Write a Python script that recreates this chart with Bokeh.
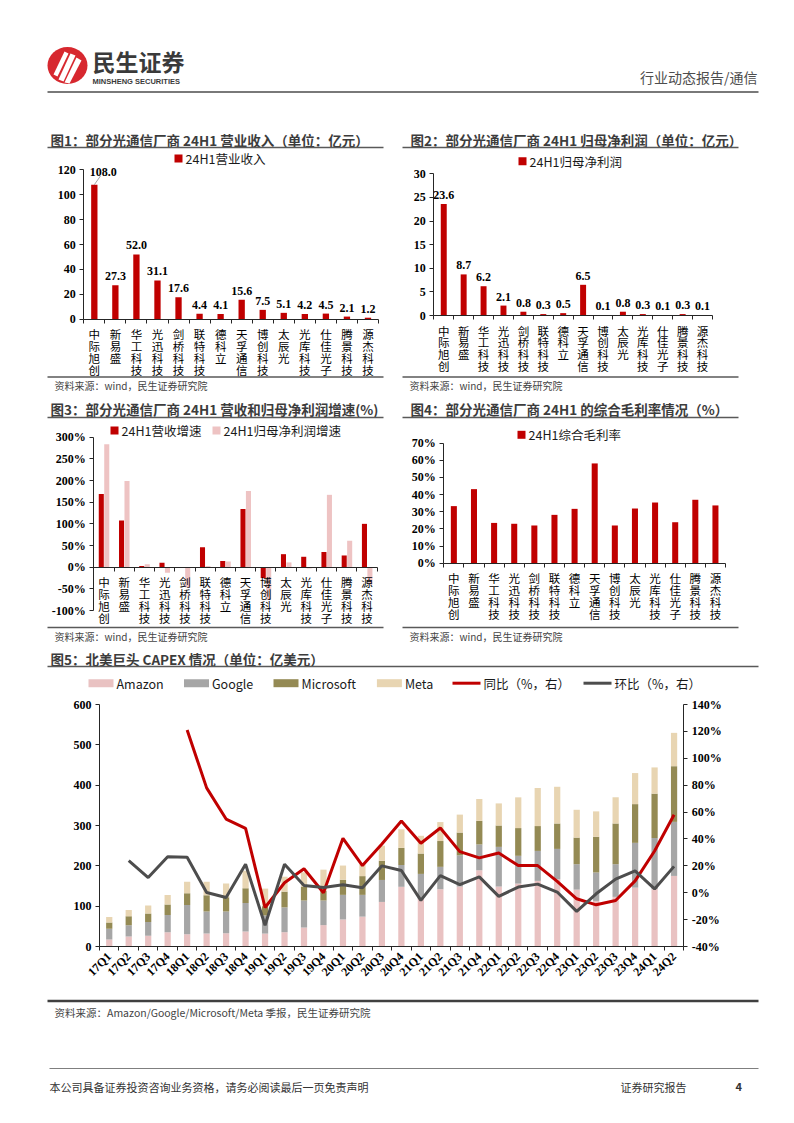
import math
from bokeh.plotting import figure
from bokeh.models import (Range1d, FixedTicker, LinearAxis, ColumnDataSource,
                          PrintfTickFormatter, CustomJSTickFormatter, LabelSet)
from bokeh.embed import file_html
from bokeh.resources import INLINE
from bokeh.core.properties import value
from bokeh.transform import dodge

# ---------------- data ----------------
companies = ["中际旭创", "新易盛", "华工科技", "光迅科技", "剑桥科技", "联特科技", "德科立",
             "天孚通信", "博创科技", "太辰光", "光库科技", "仕佳光子", "腾景科技", "源杰科技"]
revenue_24h1 = [108.0, 27.3, 52.0, 31.1, 17.6, 4.4, 4.1, 15.6, 7.5, 5.1, 4.2, 4.5, 2.1, 1.2]
net_profit_24h1 = [23.6, 8.7, 6.2, 2.1, 0.8, 0.3, 0.5, 6.5, 0.1, 0.8, 0.3, 0.1, 0.3, 0.1]
revenue_growth = [169, 108, 3, 10, -1, 46, 14, 134, -25, 30, 24, 35, 27, 100]
profit_growth = [284, 199, 7, -13, -47, 3, 13, 176, -75, 11, -3, 167, 61, -40]
gross_margin = [33.3, 43.2, 23.5, 23.0, 22.0, 28.2, 31.7, 58.2, 22.0, 31.9, 35.4, 23.9, 37.0, 33.7]

quarters = ["17Q1", "17Q2", "17Q3", "17Q4", "18Q1", "18Q2", "18Q3", "18Q4",
            "19Q1", "19Q2", "19Q3", "19Q4", "20Q1", "20Q2", "20Q3", "20Q4",
            "21Q1", "21Q2", "21Q3", "21Q4", "22Q1", "22Q2", "22Q3", "22Q4",
            "23Q1", "23Q2", "23Q3", "23Q4", "24Q1", "24Q2"]
amazon = [17.3, 24.7, 26.4, 35.5, 30.5, 32.2, 33.0, 37.0, 32.0, 35.5, 47.0, 53.0, 67.0, 74.0, 110.5,
          148.0, 118.0, 142.0, 148.6, 189.0, 148.6, 156.0, 162.7, 167.0, 141.0, 113.0, 123.0, 146.0, 142.0, 175.0]
google = [26.4, 28.1, 34.6, 42.9, 72.5, 54.4, 53.6, 71.0, 45.0, 61.5, 67.0, 61.0, 61.0, 54.0, 54.5,
          54.0, 62.0, 55.5, 77.4, 64.0, 98.4, 68.8, 74.3, 75.0, 63.0, 70.5, 81.0, 111.0, 127.0, 134.0]
microsoft = [15.7, 22.2, 20.6, 25.6, 29.0, 40.4, 35.4, 36.3, 23.0, 39.0, 34.5, 24.0, 37.5, 46.5, 47.5,
             42.5, 50.5, 64.0, 56.5, 58.5, 53.0, 68.8, 61.6, 63.0, 66.0, 88.5, 101.0, 96.0, 110.0, 138.0]
meta = [14.0, 15.7, 19.8, 23.8, 28.8, 33.8, 34.0, 43.7, 43.5, 37.0, 35.5, 52.5, 35.2, 29.5, 37.5,
        46.0, 44.0, 47.0, 44.5, 54.2, 54.8, 76.2, 94.4, 91.0, 69.0, 63.0, 65.0, 77.0, 65.0, 82.7]
NaN = float("nan")
yoy = [NaN, NaN, NaN, NaN, 121.0, 78.0, 54.8, 47.9, -11.0, 7.4, 17.8, 0.0, 40.5, 20.2, 36.3,
       53.3, 36.8, 48.1, 30.6, 25.9, 29.6, 20.2, 20.2, 8.5, -4.5, -9.0, -5.8, 8.8, 31.0, 58.0]
qoq = [NaN, 23.9, 11.3, 26.7, 26.4, 0.2, -3.5, 21.2, -24.2, 21.2, 5.4, 3.9, 5.9, 3.7, 20.0,
       16.5, -5.7, 12.7, 6.0, 11.8, -2.7, 4.2, 6.4, 0.5, -13.9, -0.8, 10.1, 16.2, 2.8, 19.6]

# ---------------- styles ----------------
CJK = "Noto Sans CJK SC"
SERIF = "Liberation Serif"
AXIS_COLOR = "#262626"
DARK_RED = "#C00000"
LIGHT_PINK = "#EEC3C3"
C_AMZ = "#E9C2C2"
C_GOOG = "#A6A6A6"
C_MSFT = "#948A54"
C_META = "#E8D5B2"
C_QOQ = "#4D4D4D"
TITLE_COLOR = "#3c3c3c"
RULE_COLOR = "#595959"
MARGIN = 0   # the canvas sits at the page's top-left corner

W, H = 778, 1107
p = figure(width=W, height=H, x_range=Range1d(0, W), y_range=Range1d(H, 0),
           output_backend="svg", toolbar_location=None, min_border=0,
           x_axis_location=None, y_axis_location=None)
p.xgrid.visible = False
p.ygrid.visible = False
p.outline_line_color = None
p.background_fill_color = "white"
p.border_fill_color = "white"

xr_extra, yr_extra = {}, {}


def panel(xname, yname, px_l, px_r, umin, umax, py_t, py_b, vmin, vmax):
    """Place a chart's plot area (page pixels) by defining its own ranges."""
    fx_l, fx_r = px_l - MARGIN, px_r - MARGIN
    fy_t, fy_b = py_t - MARGIN, py_b - MARGIN
    kx = (umax - umin) / (fx_r - fx_l)
    ky = (vmax - vmin) / (fy_b - fy_t)
    if xname is not None:
        xr_extra[xname] = Range1d(umin - fx_l * kx, umin + (W - fx_l) * kx)
    yr_extra[yname] = Range1d(vmin - (H - fy_b) * ky, vmin + fy_b * ky)


n = len(companies)
nq = len(quarters)
panel("c1x", "c1y", 83.3, 378.0, -0.5, n - 0.5, 169.3, 318.7, 0, 120)
panel("c2x", "c2y", 433.3, 712.0, -0.5, n - 0.5, 173.3, 315.0, 0, 30)
panel("c3x", "c3y", 93.3, 376.7, -0.5, n - 0.5, 436.7, 610.0, -100, 300)
panel("c4x", "c4y", 443.3, 725.0, -0.5, n - 0.5, 442.7, 562.7, 0, 70)
panel("c5x", "c5y", 99.0, 683.3, -0.5, nq - 0.5, 704.0, 946.0, 0, 600)
panel(None, "c5p", 99.0, 683.3, -0.5, nq - 0.5, 704.0, 946.0, -40, 140)
p.extra_x_ranges = xr_extra
p.extra_y_ranges = yr_extra


def style_y(axis, ticks, fmt=None):
    axis.ticker = FixedTicker(ticks=ticks)
    if fmt:
        axis.formatter = PrintfTickFormatter(format=fmt)
    axis.axis_line_color = AXIS_COLOR
    axis.major_tick_line_color = AXIS_COLOR
    axis.major_tick_out = 4
    axis.major_tick_in = 0
    axis.minor_tick_line_color = None
    axis.major_label_text_font = SERIF
    axis.major_label_text_font_style = "bold"
    axis.major_label_text_font_size = "12px"
    axis.major_label_text_color = "black"
    axis.major_label_standoff = 4


def val_axis(xn, yn, loc, ticks, fmt=None, side="left"):
    ax = LinearAxis(x_range_name=xn, y_range_name=yn, fixed_location=loc,
                    bounds=(ticks[0], ticks[-1]))
    style_y(ax, ticks, fmt)
    p.add_layout(ax, side)
    return ax


def cat_axis(xn, yn, loc, labels, font, size, orientation="horizontal", standoff=3,
             bold=False, line_height=None):
    k = len(labels)
    ax = LinearAxis(x_range_name=xn, y_range_name=yn, fixed_location=loc, bounds=(-0.5, k - 0.5))
    ax.ticker = FixedTicker(ticks=list(range(k)), minor_ticks=[i - 0.5 for i in range(k + 1)])
    ax.formatter = CustomJSTickFormatter(
        args=dict(names=labels),
        code="const i = Math.round(tick); return (i >= 0 && i < names.length) ? names[i] : '';")
    ax.major_tick_line_color = None
    ax.major_tick_out = 0
    ax.major_tick_in = 0
    ax.minor_tick_line_color = AXIS_COLOR
    ax.minor_tick_out = 4
    ax.minor_tick_in = 0
    ax.axis_line_color = AXIS_COLOR
    ax.major_label_text_font = font
    ax.major_label_text_font_size = size
    ax.major_label_text_color = "black"
    ax.major_label_standoff = standoff
    ax.major_label_orientation = orientation
    if line_height is not None:
        ax.major_label_text_line_height = line_height
    if bold:
        ax.major_label_text_font_style = "bold"
    p.add_layout(ax, "below")
    return ax


# decorations are given in page pixels
def put_text(x, y, t, size, color="#333333", bold=False, font=CJK, align="left"):
    p.text(x=[x - MARGIN], y=[y - MARGIN], text=[t], text_font=value(font), text_font_size=size,
           text_color=color, text_font_style="bold" if bold else "normal",
           text_align=align, text_baseline="middle")


def put_rule(x0, x1, y, color=RULE_COLOR, w=1.5):
    p.line(x=[x0 - MARGIN, x1 - MARGIN], y=[y - MARGIN, y - MARGIN], line_color=color, line_width=w)


def legend_box(x, y, label, color, w=8, h=8, gap=3, size="12.5px"):
    p.quad(left=[x - MARGIN], right=[x + w - MARGIN], top=[y - h / 2 - MARGIN],
           bottom=[y + h / 2 - MARGIN], fill_color=color, line_color=None)
    put_text(x + w + gap, y, label, size, color="#1a1a1a")


def legend_line(x, y, label, color, w=25, gap=3, size="12.5px"):
    p.line(x=[x - MARGIN, x + w - MARGIN], y=[y - MARGIN, y - MARGIN], line_color=color, line_width=3)
    put_text(x + w + gap, y, label, size, color="#1a1a1a")


def labelset(src, xf, yf, xn, yn):
    p.add_layout(LabelSet(x=xf, y=yf, text="txt", source=src, x_range_name=xn, y_range_name=yn,
                          text_align="center", text_baseline="bottom", y_offset=5,
                          text_font=value(SERIF), text_font_style="bold",
                          text_font_size="12px", text_color="black"))


stacked_names = ["\n".join(c) for c in companies]
idx = list(range(n))
CAT_SIZE = "11.5px"
CAT_LH = 0.74

# ---------------- chart 1 ----------------
overflow1 = 100      # labels of taller bars are moved to the top slot
slot1 = 111
src1 = ColumnDataSource(dict(
    x=idx, v=revenue_24h1,
    lx=[i + (0.42 if v > overflow1 else 0) for i, v in zip(idx, revenue_24h1)],
    ly=[slot1 if v > overflow1 else v for v in revenue_24h1],
    txt=[f"{v:.1f}" for v in revenue_24h1]))
p.vbar(x="x", top="v", width=0.3, source=src1, fill_color=DARK_RED, line_color=None,
       x_range_name="c1x", y_range_name="c1y")
lead = [(i, v) for i, v in zip(idx, revenue_24h1) if v > overflow1]
p.segment(x0=[i for i, v in lead], y0=[v for i, v in lead],
          x1=[i + 0.29 for i, v in lead], y1=[slot1 + 4 for i, v in lead],
          line_color="#8c8c8c", line_width=0.8, x_range_name="c1x", y_range_name="c1y")
labelset(src1, "lx", "ly", "c1x", "c1y")
val_axis("c1x", "c1y", -0.5, list(range(0, 121, 20)))
cat_axis("c1x", "c1y", 0, stacked_names, CJK, CAT_SIZE, line_height=CAT_LH)

# ---------------- chart 2 ----------------
src2 = ColumnDataSource(dict(x=idx, v=net_profit_24h1, txt=[f"{v:.1f}" for v in net_profit_24h1]))
p.vbar(x="x", top="v", width=0.3, source=src2, fill_color=DARK_RED, line_color=None,
       x_range_name="c2x", y_range_name="c2y")
labelset(src2, "x", "v", "c2x", "c2y")
val_axis("c2x", "c2y", -0.5, list(range(0, 31, 5)))
cat_axis("c2x", "c2y", 0, stacked_names, CJK, CAT_SIZE, line_height=CAT_LH)

# ---------------- chart 3 ----------------
src3 = ColumnDataSource(dict(x=idx, rg=revenue_growth, pg=profit_growth))
p.vbar(x=dodge("x", -0.13, range=xr_extra["c3x"]), top="rg", bottom=0, width=0.25, source=src3,
       fill_color=DARK_RED, line_color=None, x_range_name="c3x", y_range_name="c3y")
p.vbar(x=dodge("x", 0.14, range=xr_extra["c3x"]), top="pg", bottom=0, width=0.25, source=src3,
       fill_color=LIGHT_PINK, line_color=None, x_range_name="c3x", y_range_name="c3y")
val_axis("c3x", "c3y", -0.5, list(range(-100, 301, 50)), "%d%%")
cat_axis("c3x", "c3y", 0, stacked_names, CJK, CAT_SIZE, line_height=CAT_LH)

# ---------------- chart 4 ----------------
src4 = ColumnDataSource(dict(x=idx, v=gross_margin))
p.vbar(x="x", top="v", width=0.3, source=src4, fill_color=DARK_RED, line_color=None,
       x_range_name="c4x", y_range_name="c4y")
val_axis("c4x", "c4y", -0.5, list(range(0, 71, 10)), "%d%%")
cat_axis("c4x", "c4y", 0, stacked_names, CJK, CAT_SIZE, line_height=CAT_LH)

# ---------------- chart 5 ----------------
src5 = ColumnDataSource(dict(x=list(range(nq)), amazon=amazon, google=google,
                             microsoft=microsoft, meta=meta, yoy=yoy, qoq=qoq))
p.vbar_stack(["amazon", "google", "microsoft", "meta"], x="x", width=0.32, source=src5,
             fill_color=[C_AMZ, C_GOOG, C_MSFT, C_META], line_color=None,
             x_range_name="c5x", y_range_name="c5y")
p.line("x", "yoy", source=src5, x_range_name="c5x", y_range_name="c5p",
       line_color=DARK_RED, line_width=3)
p.line("x", "qoq", source=src5, x_range_name="c5x", y_range_name="c5p",
       line_color=C_QOQ, line_width=3)
val_axis("c5x", "c5y", -0.5, list(range(0, 601, 100)))
val_axis("c5x", "c5p", nq - 0.5, list(range(-40, 141, 20)), "%d%%", side="right")
cat_axis("c5x", "c5y", 0, quarters, SERIF, "12px", orientation=math.pi / 4, standoff=4, bold=True)

# ---------------- legends ----------------
legend_box(174, 158, "24H1营业收入", DARK_RED)
legend_box(518, 160.7, "24H1归母净利润", DARK_RED)
legend_box(110, 430, "24H1营收增速", DARK_RED)
legend_box(212, 430, "24H1归母净利润增速", LIGHT_PINK)
legend_box(517, 434.3, "24H1综合毛利率", DARK_RED)
ly5 = 682.7
legend_box(88, ly5, "Amazon", C_AMZ, w=25)
legend_box(183.5, ly5, "Google", C_GOOG, w=25)
legend_box(273, ly5, "Microsoft", C_MSFT, w=25)
legend_box(376.4, ly5, "Meta", C_META, w=25)
legend_line(452, ly5, "同比（%，右）", DARK_RED, w=28)
legend_line(583, ly5, "环比（%，右）", C_QOQ, w=28)

# ---------------- page texts and rules ----------------
TITLES = ["图1：部分光通信厂商 24H1 营业收入（单位：亿元）",
          "图2：部分光通信厂商 24H1 归母净利润（单位：亿元）",
          "图3：部分光通信厂商 24H1 营收和归母净利润增速(%)",
          "图4：部分光通信厂商 24H1 的综合毛利率情况（%）",
          "图5：北美巨头 CAPEX 情况（单位：亿美元）"]
SRC = "资料来源：wind，民生证券研究院"
SRC5 = "资料来源：Amazon/Google/Microsoft/Meta 季报，民生证券研究院"
TS = "13.5px"

# header
p.ellipse(x=[67 - MARGIN], y=[65 - MARGIN], width=[40], height=[37], fill_color="#D7282F", line_color=None)
p.patches(xs=[[x - MARGIN for x in xs] for xs in [[53, 57, 68, 64], [58, 63, 75, 70], [64, 69, 81, 76]]],
          ys=[[y - MARGIN for y in ys] for ys in [[74, 76, 53, 51], [79, 81, 55, 53], [82, 83, 60, 57]]],
          fill_color="white", line_color=None)
put_text(92, 60, "民生证券", "23px", color="#3a3a3a", bold=True)
put_text(92, 81, "MINSHENG SECURITIES", "7.5px", color="#3a3a3a", bold=True, font="Liberation Sans")
put_text(757, 76, "行业动态报告/通信", "14px", color="#4d4d4d", align="right")
put_rule(47, 758, 91.5, color="#4d4d4d", w=1.5)

# titles / rules / sources
put_text(50, 139, TITLES[0], TS, color=TITLE_COLOR, bold=True)
put_text(410, 139, TITLES[1], TS, color=TITLE_COLOR, bold=True)
put_rule(47, 383, 147)
put_rule(402, 738, 147)
put_rule(47, 383, 376.5)
put_rule(402, 738, 376.5)
put_text(54, 385, SRC, "10px", color="#444444")
put_text(409, 385, SRC, "10px", color="#444444")

put_text(50, 408.5, TITLES[2], TS, color=TITLE_COLOR, bold=True)
put_text(410, 408.5, TITLES[3], TS, color=TITLE_COLOR, bold=True)
put_rule(47, 383, 417)
put_rule(402, 738, 417)
put_rule(47, 383, 627)
put_rule(402, 738, 627)
put_text(54, 636, SRC, "10px", color="#444444")
put_text(409, 636, SRC, "10px", color="#444444")

put_text(50, 658, TITLES[4], TS, color=TITLE_COLOR, bold=True)
put_rule(47, 758, 666)
put_rule(47, 758, 1000.5, color="#404040", w=2.5)
put_text(54, 1011.5, SRC5, "10.5px", color="#444444")

# footer
put_rule(49, 758, 1068, color="#7f7f7f", w=1.2)
put_text(49, 1086, "本公司具备证券投资咨询业务资格，请务必阅读最后一页免责声明", "11px", color="#333333")
put_text(620, 1086, "证券研究报告", "11px", color="#333333")
put_text(735, 1086, "4", "11px", color="#333333", bold=True)

open("out.html", "w").write(file_html(p, INLINE))
